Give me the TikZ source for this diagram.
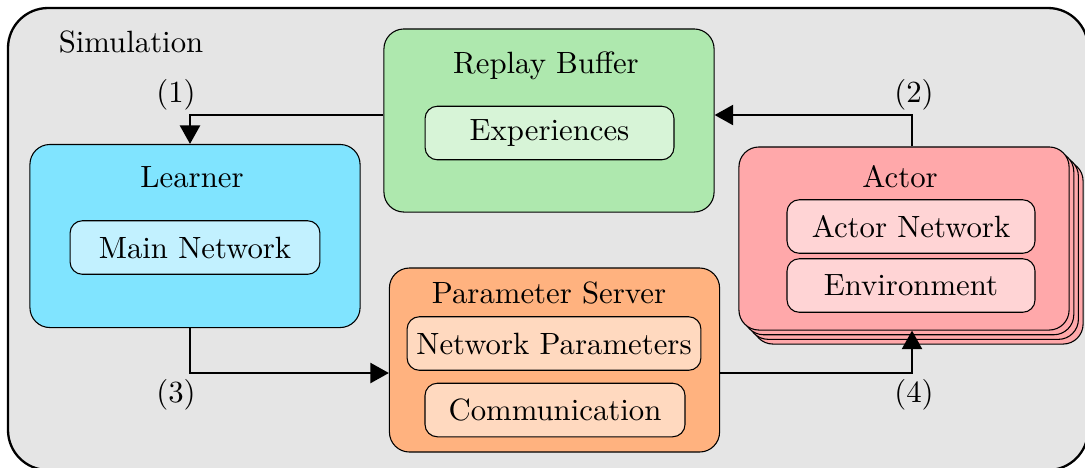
\documentclass[tikz,border=0pt]{standalone}
\usetikzlibrary{arrows.meta,positioning}
\definecolor{bggray}{HTML}{E5E5E5}
\definecolor{rbgreen}{HTML}{AEE8AE}
\definecolor{rbgreenl}{HTML}{D7F4D7}
\definecolor{lcyan}{HTML}{80E4FF}
\definecolor{lcyanl}{HTML}{C2F1FF}
\definecolor{psorange}{HTML}{FFB27F}
\definecolor{psorangel}{HTML}{FFD9BF}
\definecolor{acred}{HTML}{FFA8AA}
\definecolor{acredl}{HTML}{FFD4D5}
\tikzset{
  bigbox/.style={draw=black, line width=0.35pt, rounded corners=6.5pt, minimum width=107.3pt, minimum height=59.5pt, inner sep=0pt},
  smallbox/.style={draw=black, line width=0.35pt, rounded corners=4pt, minimum height=17.4pt, inner sep=0pt},
  arr/.style={line width=0.7pt, -{Triangle[length=6pt,width=6.5pt]}},
  lbl/.style={inner sep=0pt}
}
\begin{document}
\begin{tikzpicture}[x=0.325pt,y=-0.325pt]
\useasboundingbox (0,0) rectangle (1085,467);
\begin{scope}
\clip (0,0) rectangle (1085,467);
\draw[fill=bggray, line width=0.75pt, rounded corners=13pt] (8,8) rectangle (1088,470);
\end{scope}
\node[lbl] (sim) at (131,42) {Simulation};

% Replay buffer
\node[bigbox, fill=rbgreen] (rb) at (549,120.5) {};
\node[lbl] (rbt) at (546,66) {Replay Buffer};
\node[smallbox, fill=rbgreenl, minimum width=80.9pt] (exp) at (549.5,133) {Experiences};

% Learner
\node[bigbox, fill=lcyan] (le) at (195,236) {};
\node[lbl] (let) at (192,177) {Learner};
\node[smallbox, fill=lcyanl, minimum width=81.2pt] (mn) at (195,247.5) {Main Network};

% Parameter server
\node[bigbox, fill=psorange, minimum height=59.8pt] (ps) at (554.5,360) {};
\node[lbl] (pst) at (549,293) {Parameter Server};
\node[smallbox, fill=psorangel, minimum width=95.5pt] (np) at (554,343.5) {Network Parameters};
\node[smallbox, fill=psorangel, minimum width=84.5pt] (com) at (555,410) {Communication};

% Actor stack
\node[bigbox, fill=acred] (ac3) at (918,252.5) {};
\node[bigbox, fill=acred] (ac2) at (913.3,247.8) {};
\node[bigbox, fill=acred] (ac1) at (908.7,243.2) {};
\node[bigbox, fill=acred] (ac) at (904,238.5) {};
\node[lbl] (act) at (900,177) {Actor};
\node[smallbox, fill=acredl, minimum width=80.6pt] (an) at (911,226.5) {Actor Network};
\node[smallbox, fill=acredl, minimum width=80.6pt] (env) at (911,285.5) {Environment};

% connectors
\coordinate (c1) at (190,115);
\coordinate (c2) at (912,115);
\coordinate (c3) at (190,373);
\coordinate (c4) at (912,373);
\draw[arr] (rb.west |- c1) -| (c1 |- le.north);
\draw[arr] (c2 |- ac.north) |- (rb.east |- c2);
\draw[arr] (c3 |- le.south) |- (ps.west |- c3);
\draw[arr] (ps.east |- c4) -| (c4 |- ac.south);

\node[lbl] (l1) at (176,95) {(1)};
\node[lbl] (l2) at (914,95) {(2)};
\node[lbl] (l3) at (176,395) {(3)};
\node[lbl] (l4) at (914,395) {(4)};
\end{tikzpicture}
\end{document}
